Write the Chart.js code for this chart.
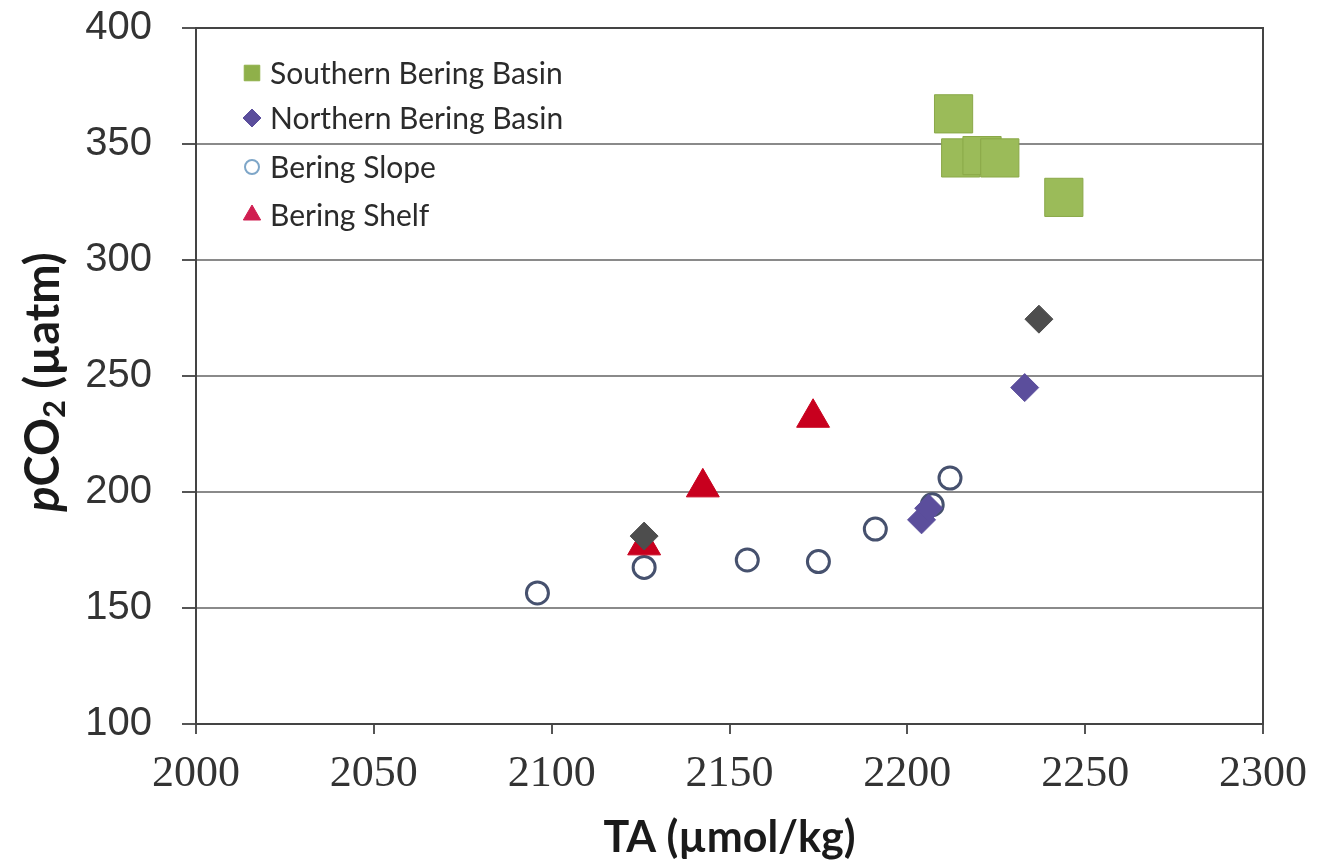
<!DOCTYPE html>
<html>
<head>
<meta charset="utf-8">
<script src="https://cdn.jsdelivr.net/npm/chart.js@4.4.1/dist/chart.umd.min.js"></script>
<style>
  html, body { margin: 0; padding: 0; background: #fff; }
</style>
</head>
<body>
<canvas id="chart" width="1317" height="866"></canvas>
<script>
// TA (umol/kg) vs pCO2 (uatm)
const southernTA = [2213, 2215, 2221, 2226, 2244];
const southernPCO2 = [363, 344, 345, 344, 327];

const northernTA = [2233, 2204, 2206];
const northernPCO2 = [245, 188, 193];

// dark grey diamonds, not in the legend
const greyTA = [2237, 2126];
const greyPCO2 = [274.5, 181];

const slopeTA = [2096, 2126, 2155, 2175, 2191, 2207, 2212];
const slopePCO2 = [156.5, 167.5, 170.7, 170, 184, 194.5, 206];

const shelfTA = [2173.5, 2142.5, 2126];
const shelfPCO2 = [232, 202, 177];

const xTicks = [2000, 2050, 2100, 2150, 2200, 2250, 2300];
const yTicks = [100, 150, 200, 250, 300, 350, 400];

const legendNames = ["Southern Bering Basin", "Northern Bering Basin", "Bering Slope", "Bering Shelf"];

const toPoints = (xs, ys) => xs.map((x, i) => ({ x: x, y: ys[i] }));

const greenFill = "#9bbb59";
const purple = "#5b4e9c";
const slopeLine = "#46516e";
const red = "#c8001e";

// frame around the plot area
const framePlugin = {
  id: "frame",
  beforeDatasetsDraw(chart) {
    const a = chart.chartArea;
    const ctx = chart.ctx;
    ctx.save();
    ctx.strokeStyle = "#444";
    ctx.lineWidth = 2;
    ctx.strokeRect(a.left, a.top, a.right - a.left, a.bottom - a.top);
    ctx.restore();
  },
};

// y title with italic p and subscript 2
const yTitlePlugin = {
  id: "yTitle",
  afterDraw(chart) {
    const ctx = chart.ctx;
    const a = chart.chartArea;
    const big = "bold 47px Lato";
    const parts = [
      { t: "p", f: "italic bold 47px Lato", dy: 0 },
      { t: "CO", f: big, dy: 0 },
      { t: "2", f: "bold 31px Lato", dy: 11 },
      { t: " (µatm)", f: big, dy: 0 },
    ];
    ctx.save();
    let w = 0;
    parts.forEach((p) => { ctx.font = p.f; p.w = ctx.measureText(p.t).width; w += p.w; });
    ctx.translate(44, (a.top + a.bottom) / 2 + 6);
    ctx.rotate(-Math.PI / 2);
    ctx.fillStyle = "#1a1a1a";
    ctx.textBaseline = "middle";
    let x = -w / 2;
    parts.forEach((p) => {
      ctx.font = p.f;
      ctx.fillText(p.t, x, p.dy);
      x += p.w;
    });
    ctx.restore();
  },
};

// legend drawn inside the plot, top left
const legendPlugin = {
  id: "insideLegend",
  afterDraw(chart) {
    const ctx = chart.ctx;
    const rows = [73, 118, 167, 215];
    const markers = [
      { pointStyle: "rect", radius: 11, fill: "#8fb04a", stroke: "#8fb04a", bw: 1 },
      { pointStyle: "rectRot", radius: 9, fill: purple, stroke: purple, bw: 1 },
      { pointStyle: "circle", radius: 7, fill: "#fff", stroke: "#7ea6c8", bw: 2 },
      { pointStyle: "triangle", radius: 10, fill: "#d01e50", stroke: "#d01e50", bw: 1 },
    ];
    ctx.save();
    legendNames.forEach((name, i) => {
      const m = markers[i];
      ctx.fillStyle = m.fill;
      ctx.strokeStyle = m.stroke;
      ctx.lineWidth = m.bw;
      Chart.helpers.drawPoint(ctx, { pointStyle: m.pointStyle, radius: m.radius, borderWidth: m.bw, rotation: 0 }, 252, rows[i]);
      ctx.font = "30px Lato";
      ctx.fillStyle = "#2b2b2b";
      ctx.textBaseline = "middle";
      ctx.fillText(name, 270, rows[i] + 1);
    });
    ctx.restore();
  },
};

new Chart(document.getElementById("chart"), {
  type: "scatter",
  data: {
    datasets: [
      {
        label: "grey",
        data: toPoints(greyTA, greyPCO2),
        pointStyle: "rectRot",
        pointRadius: 14,
        backgroundColor: "#4d4d4d",
        borderColor: "#4d4d4d",
        borderWidth: 1,
      },
      {
        label: legendNames[3],
        data: toPoints(shelfTA, shelfPCO2),
        pointStyle: "triangle",
        pointRadius: 19,
        backgroundColor: red,
        borderColor: red,
        borderWidth: 1,
      },
      {
        label: legendNames[1],
        data: toPoints(northernTA, northernPCO2),
        pointStyle: "rectRot",
        pointRadius: 14,
        backgroundColor: purple,
        borderColor: purple,
        borderWidth: 1,
      },
      {
        label: legendNames[2],
        data: toPoints(slopeTA, slopePCO2),
        pointStyle: "circle",
        pointRadius: 11,
        backgroundColor: "rgba(255,255,255,0)",
        borderColor: slopeLine,
        borderWidth: 3,
      },
      {
        label: legendNames[0],
        data: toPoints(southernTA, southernPCO2),
        pointStyle: "rect",
        pointRadius: 27,
        backgroundColor: greenFill,
        borderColor: "#8aa848",
        borderWidth: 1,
      },
    ],
  },
  options: {
    responsive: false,
    animation: false,
    events: [],
    layout: { padding: { top: 27, right: 54, left: 0, bottom: 0 } },
    plugins: {
      legend: { display: false },
      tooltip: { enabled: false },
    },
    scales: {
      x: {
        type: "linear",
        min: 2000,
        max: 2300,
        afterBuildTicks: (s) => { s.ticks = xTicks.map((v) => ({ value: v })); },
        afterFit: (s) => {
          s.height = 142;
          s.paddingLeft = 0;
          s.paddingRight = 0;
        },
        ticks: {
          font: { family: "Liberation Serif", size: 44 },
          color: "#333",
          padding: 14,
          maxRotation: 0,
          callback: (v) => String(v),
        },
        grid: {
          drawOnChartArea: false,
          tickLength: 10,
          tickColor: "#555",
          lineWidth: 2,
        },
        border: { color: "#444", width: 2 },
        title: {
          display: true,
          text: "TA (µmol/kg)",
          font: { family: "Lato", size: 43, weight: "bold" },
          color: "#1a1a1a",
          padding: { top: 0, bottom: 2 },
        },
      },
      y: {
        type: "linear",
        min: 100,
        max: 400,
        afterBuildTicks: (s) => { s.ticks = yTicks.map((v) => ({ value: v })); },
        afterFit: (s) => {
          s.width = 196;
          s.paddingTop = 0;
          s.paddingBottom = 0;
        },
        ticks: {
          font: { family: "Liberation Sans", size: 40 },
          color: "#333",
          padding: 30,
          callback: (v) => String(v),
        },
        grid: {
          color: "#8a8a8a",
          lineWidth: 2,
          tickLength: 14,
          tickColor: "#555",
        },
        border: { color: "#444", width: 2 },
      },
    },
  },
  plugins: [framePlugin, yTitlePlugin, legendPlugin],
});
</script>
</body>
</html>
